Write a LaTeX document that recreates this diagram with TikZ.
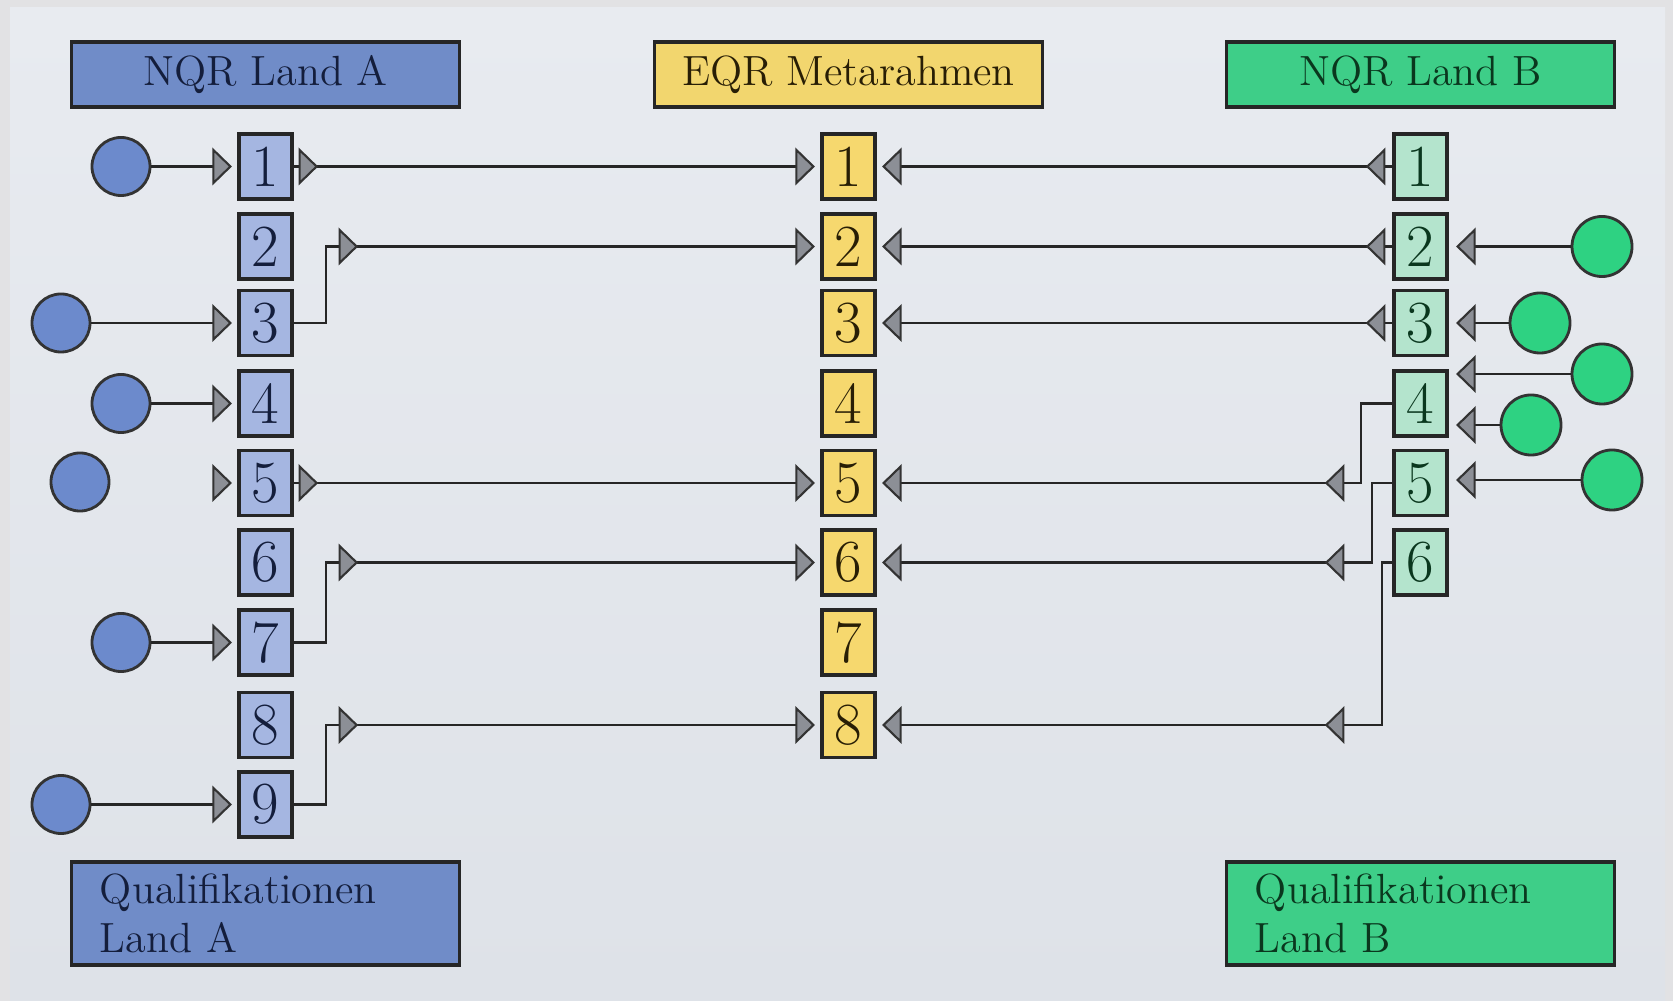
\documentclass[tikz,border=0pt]{standalone}
\usetikzlibrary{calc}
\definecolor{frameg}{RGB}{226,226,228}
\definecolor{bgtop}{RGB}{232,235,240}
\definecolor{bgbot}{RGB}{222,226,232}
\definecolor{headA}{RGB}{112,140,200}
\definecolor{boxA}{RGB}{165,182,225}
\definecolor{dotA}{RGB}{108,138,204}
\definecolor{txtA}{RGB}{20,30,60}
\definecolor{headE}{RGB}{242,214,110}
\definecolor{boxE}{RGB}{246,216,110}
\definecolor{txtE}{RGB}{40,30,5}
\definecolor{headB}{RGB}{62,206,136}
\definecolor{boxB}{RGB}{180,228,205}
\definecolor{dotB}{RGB}{46,210,130}
\definecolor{txtB}{RGB}{10,55,30}
\definecolor{trigray}{RGB}{140,143,150}
\tikzset{
  conn/.style={draw=black!85, line width=0.6pt},
  tri/.style={fill=trigray, draw=black!80, line width=0.6pt, line join=miter},
  trir/.pic={\path[tri] (-17,-16.5) -- (0,0) -- (-17,16.5) -- cycle;},
  tril/.pic={\path[tri] (17,-16.5) -- (0,0) -- (17,16.5) -- cycle;},
  numbox/.style={draw=black!85, line width=0.9pt, minimum width=0.53cm, minimum height=0.65cm, inner sep=0pt, font=\fontsize{17}{17}\selectfont},
  nA/.style={numbox, fill=boxA, text=txtA},
  nE/.style={numbox, fill=boxE, text=txtE},
  nB/.style={numbox, fill=boxB, text=txtB},
  head/.style={draw=black!85, line width=0.9pt, minimum width=3.87cm, minimum height=0.65cm, inner sep=0pt, font=\fontsize{12}{14}\selectfont},
  foot/.style={draw=black!85, line width=0.9pt, minimum height=1.03cm, text width=3.31cm, inner xsep=0.28cm, inner ysep=0pt, align=left, font=\fontsize{12}{14}\selectfont},
  dotstyle/.style={circle, draw=black!80, line width=0.8pt, minimum size=0.58cm, inner sep=0pt},
  dA/.style={dotstyle, fill=dotA},
  dB/.style={dotstyle, fill=dotB, minimum size=0.6cm},
}
\begin{document}
\begin{tikzpicture}[x=0.01cm,y=-0.01cm]
\useasboundingbox (0,0) rectangle (1673,1001);
% background
\fill[frameg] (0,0) rectangle (1673,1001);
\shade[top color=bgtop, bottom color=bgbot] (10,8) rectangle (1665,1001);
% headers
\node[head, fill=headA, text=txtA] (hA) at (265.5,74.5) {NQR Land A};
\node[head, fill=headE, text=txtE] (hE) at (848.5,74.5) {EQR Metarahmen};
\node[head, fill=headB, text=txtB] (hB) at (1420.5,74.5) {NQR Land B};
% footers
\node[foot, fill=headA, text=txtA] (fA) at (265.5,913.5) {Qualifikationen\\Land A};
\node[foot, fill=headB, text=txtB] (fB) at (1420.5,913.5) {Qualifikationen\\Land B};
% number boxes
\foreach \i/\y in {1/166.5,2/246.5,3/323,4/403.5,5/483,6/562.5,7/642.5,8/725,9/804.5}
  \node[nA] (A\i) at (265.5,\y) {\i};
\foreach \i/\y in {1/166.5,2/246.5,3/323,4/403.5,5/483,6/562.5,7/642.5,8/725}
  \node[nE] (E\i) at (848.5,\y) {\i};
\foreach \i/\y in {1/166.5,2/246.5,3/323,4/403.5,5/483,6/562.5}
  \node[nB] (R\i) at (1420.5,\y) {\i};
% circles land A
\node[dA] (cA1) at (121,166.5) {};
\node[dA] (cA3) at (61,323) {};
\node[dA] (cA4) at (121,403.5) {};
\node[dA] (cA5) at (80,482) {};
\node[dA] (cA7) at (121,642.5) {};
\node[dA] (cA9) at (61,804.5) {};
% circles land B
\node[dB] (cB2) at (1602,246.5) {};
\node[dB] (cB3) at (1540,323) {};
\node[dB] (cBx) at (1602,374) {};
\node[dB] (cB4) at (1531,425) {};
\node[dB] (cB5) at (1612,480) {};
% input tips land A
\foreach \i in {1,3,4,5,7,9}
  \coordinate (tA\i) at ($(A\i.west)+(-7,0)$);
\foreach \i in {1,3,4,7,9}
  \draw[conn] (cA\i) -- (tA\i);
\foreach \i in {1,3,4,5,7,9}
  \pic at (tA\i) {trir};
% input tips land B
\coordinate (tB2) at ($(R2.east)+(9,0)$);
\coordinate (tB3) at ($(R3.east)+(9,0)$);
\coordinate (tBx) at ($(R3.east)+(9,51)$);
\coordinate (tB4) at ($(R4.east)+(9,21.5)$);
\coordinate (tB5) at ($(R5.east)+(9,-3)$);
\foreach \n in {2,3,x,4,5}
  \draw[conn] (cB\n) -- (tB\n);
\foreach \n in {2,3,x,4,5}
  \pic at (tB\n) {tril};
% land A to EQR
\draw[conn, shorten >=0.07cm] (A1.east) -- (E1.west);
\draw[conn, shorten >=0.07cm] (A5.east) -- (E5.west);
\draw[conn, shorten >=0.07cm] (A3.east) -- ++(32,0) |- (E2.west);
\draw[conn, shorten >=0.07cm] (A7.east) -- ++(32,0) |- (E6.west);
\draw[conn, shorten >=0.07cm] (A9.east) -- ++(32,0) |- (E8.west);
\pic at ($(A1.east)+(23,0)$) {trir};
\pic at ($(A5.east)+(23,0)$) {trir};
\pic at ($(A1.east |- E2.west)+(63,0)$) {trir};
\pic at ($(A1.east |- E6.west)+(63,0)$) {trir};
\pic at ($(A1.east |- E8.west)+(63,0)$) {trir};
\foreach \i in {1,2,5,6,8}
  \pic at ($(E\i.west)+(-7,0)$) {trir};
% land B to EQR
\draw[conn, shorten >=0.07cm] (R1.west) -- (E1.east);
\draw[conn, shorten >=0.07cm] (R2.west) -- (E2.east);
\draw[conn, shorten >=0.07cm] (R3.west) -- (E3.east);
\draw[conn, shorten >=0.07cm] (R4.west) -- ++(-31,0) |- (E5.east);
\draw[conn, shorten >=0.07cm] (R5.west) -- ++(-20,0) |- (E6.east);
\draw[conn, shorten >=0.07cm] (R6.west) -- ++(-10,0) |- (E8.east);
\foreach \i in {1,2,3}
  \pic at ($(R\i.west)+(-25,0)$) {tril};
\foreach \i in {5,6,8}
  \pic at ($(R1.west |- E\i.east)+(-66,0)$) {tril};
\foreach \i in {1,2,3,5,6,8}
  \pic at ($(E\i.east)+(7,0)$) {tril};
\end{tikzpicture}
\end{document}
